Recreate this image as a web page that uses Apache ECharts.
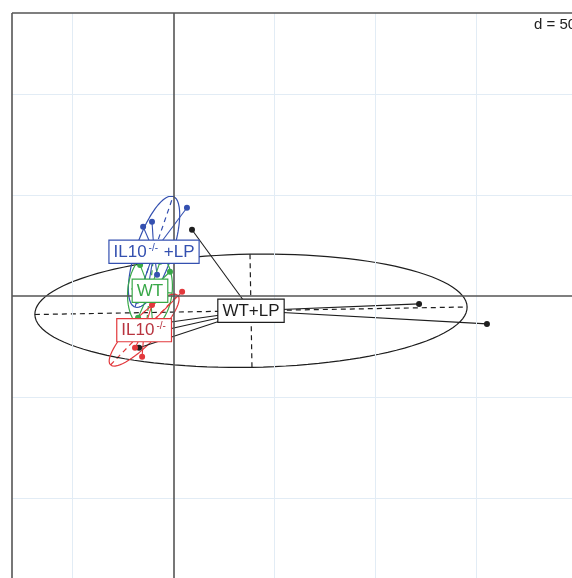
<!DOCTYPE html>
<html><head><meta charset="utf-8">
<script src="https://cdn.jsdelivr.net/npm/echarts@6/dist/echarts.min.js"></script>
<style>html,body{margin:0;padding:0;background:#fff}#c{width:572px;height:578px}</style>
</head><body><div id="c"></div>
<script>
// groups
const groups = ['WT+LP', 'IL10-/- +LP', 'WT', 'IL10-/-'];
const groupColors = ['#1e1e1e', '#3450b0', '#38a848', '#e2383c'];
const labelTextColors = ['#1e1e1e', '#3450b0', '#38a848', '#b8343f'];
// group centres (class means)
const centerX = [38.3, -9.7, -11.7, -14.6];
const centerY = [-7.4, 21.8, 2.5, -17.0];
// individual points per group
const pointsWTLP = [[9.1, 32.7], [121.5, -4.0], [155.1, -13.9], [-17.1, -25.7], [-21.6, -15.8], [-21.6, -20.8]];
const pointsIL10LP = [[-15.1, 34.2], [-10.7, 36.6], [6.6, 43.6], [-18.1, -2.5], [-12.7, 3.4], [-8.2, 10.4]];
const pointsWT = [[-16.6, 15.3], [-6.7, 16.8], [-1.8, 11.9], [-17.6, -10.9], [-10.2, -15.8], [-13.2, -0.5]];
const pointsIL10 = [[4.2, 2.0], [-19.1, -25.7], [-15.6, -30.2], [-22.6, -20.8], [-16.6, -14.4], [-10.7, -4.5]];
const groupPoints = [pointsWTLP, pointsIL10LP, pointsWT, pointsIL10];
// ellipse parameters (semi-axes and angle in degrees)
const ellA = [107, 29, 19, 24];
const ellB = [28, 9, 11, 6.5];
const ellAngle = [1, 71, 84, 46];
// grid ticks (d = 50)
const gridTicksX = [-50, 0, 50, 100, 150];
const gridTicksY = [-100, -50, 0, 50, 100];
const xRange = [-80, 197.2];
const yRange = [-139.7, 140];
const scaleText = 'd = 50';

function ellipse(i) {
  const out = [];
  const th = ellAngle[i] * Math.PI / 180;
  for (let k = 0; k <= 120; k++) {
    const t = k / 120 * 2 * Math.PI;
    const ca = ellA[i] * Math.cos(t), sb = ellB[i] * Math.sin(t);
    out.push([centerX[i] + ca * Math.cos(th) - sb * Math.sin(th),
              centerY[i] + ca * Math.sin(th) + sb * Math.cos(th)]);
  }
  return out;
}
function ellAxes(i) {
  const th = ellAngle[i] * Math.PI / 180;
  const cx = centerX[i], cy = centerY[i], a = ellA[i], b = ellB[i];
  return [
    {coords: [[cx - a * Math.cos(th), cy - a * Math.sin(th)], [cx + a * Math.cos(th), cy + a * Math.sin(th)]]},
    {coords: [[cx + b * Math.sin(th), cy - b * Math.cos(th)], [cx - b * Math.sin(th), cy + b * Math.cos(th)]]}
  ];
}

const series = [];
// background grid
series.push({
  type: 'line', data: [], silent: true, z: 0,
  markLine: {
    silent: true, symbol: ['none', 'none'], label: {show: false},
    lineStyle: {color: '#e2ecf5', width: 1, type: 'solid'},
    data: gridTicksX.filter(v => v !== 0).map(v => ({xAxis: v}))
      .concat(gridTicksY.filter(v => v !== 0).map(v => ({yAxis: v})))
  }
});
// axes through origin and frame (left/top)
series.push({
  type: 'line', data: [], silent: true, z: 1,
  markLine: {
    silent: true, symbol: ['none', 'none'], label: {show: false},
    lineStyle: {color: '#555', width: 1.6, type: 'solid'},
    data: [{xAxis: 0}, {yAxis: 0}, {xAxis: xRange[0]}, {yAxis: yRange[1]}]
  }
});

groups.forEach((g, i) => {
  series.push({
    type: 'line', data: ellipse(i), showSymbol: false, silent: true, z: 2,
    lineStyle: {color: groupColors[i], width: 1.2}
  });
  series.push({
    type: 'lines', coordinateSystem: 'cartesian2d', silent: true, z: 2,
    data: ellAxes(i),
    lineStyle: {color: groupColors[i], width: 1.2, type: [5, 4], opacity: 1}
  });
  series.push({
    type: 'lines', coordinateSystem: 'cartesian2d', silent: true, z: 3,
    data: groupPoints[i].map(p => ({coords: [[centerX[i], centerY[i]], p]})),
    lineStyle: {color: groupColors[i], width: 1.1, opacity: 1}
  });
  series.push({
    type: 'scatter', data: groupPoints[i], symbolSize: 6, silent: true, z: 4,
    itemStyle: {color: groupColors[i], opacity: 1}
  });
});

const labelRich = ['{b|WT+LP}', '{b|IL10}{s|-/-}{b| +LP}', '{b|WT}', '{b|IL10}{s|-/-}'];
const font = 'Liberation Sans, Arial, sans-serif';
groups.forEach((g, i) => {
  series.push({
    type: 'scatter', data: [[centerX[i], centerY[i]]], symbolSize: 0, silent: true, z: 20,
    label: {
      show: true, position: 'inside', formatter: labelRich[i],
      color: labelTextColors[i], textBorderWidth: 0, textShadowBlur: 0, opacity: 1,
      backgroundColor: '#fff', borderColor: groupColors[i], borderWidth: 1.2,
      padding: [2, 4, 1, 4],
      rich: {
        b: {fontSize: 17, color: labelTextColors[i], textBorderWidth: 0, fontFamily: font, lineHeight: 19},
        s: {fontSize: 10, color: labelTextColors[i], textBorderWidth: 0, fontFamily: font, verticalAlign: 'top', lineHeight: 10, padding: [0, 1, 0, 2]}
      }
    }
  });
});

const chart = echarts.init(document.getElementById('c'), null, {renderer: 'canvas'});
chart.setOption({
  animation: false,
  grid: {left: 12, top: 13, right: 0, bottom: 0, show: false},
  xAxis: {type: 'value', min: xRange[0], max: xRange[1], axisLine: {show: false}, axisTick: {show: false}, axisLabel: {show: false}, splitLine: {show: false}},
  yAxis: {type: 'value', min: yRange[0], max: yRange[1], axisLine: {show: false}, axisTick: {show: false}, axisLabel: {show: false}, splitLine: {show: false}},
  graphic: [{type: 'text', left: 534, top: 17, style: {text: scaleText, fontSize: 15, fill: '#222', fontFamily: font}}],
  series: series
});
</script></body></html>
